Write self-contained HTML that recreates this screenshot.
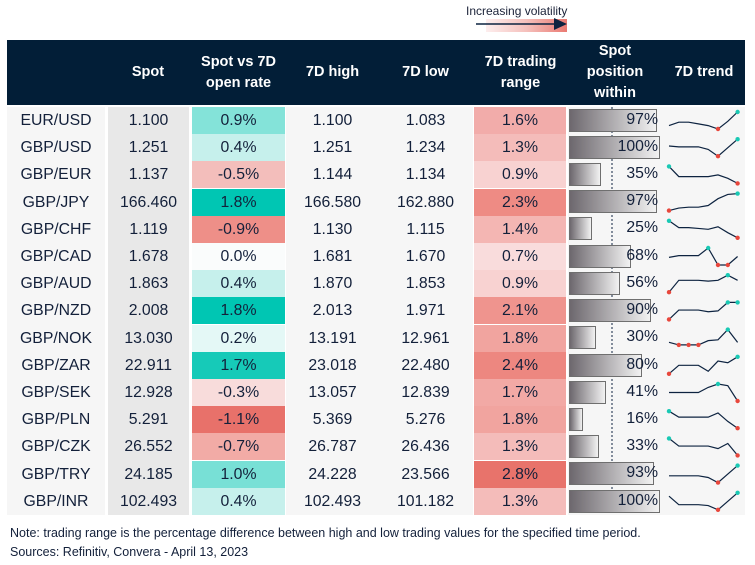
<!DOCTYPE html>
<html><head><meta charset="utf-8"><style>
body{margin:0;width:755px;height:565px;background:#fff;position:relative;overflow:hidden;font-family:"Liberation Sans",sans-serif;color:#13203a}
.a{position:absolute}
.hd{position:absolute;top:40px;height:65px;display:flex;align-items:center;justify-content:center;text-align:center;color:#fff;font-weight:bold;font-size:14.5px;line-height:21px}
.c{position:absolute;display:flex;align-items:center;justify-content:center;font-size:15.8px}
.bar{position:absolute;border:1px solid #6f6f6f;background:linear-gradient(to right,#6d686e,#f2f2f2);box-sizing:border-box}
.pct{position:absolute;width:90px;text-align:right;font-size:15.8px}
</style></head><body>
<div class="a" style="left:466px;top:4px;font-size:12px;color:#1a2238">Increasing volatility</div>
<div class="a" style="left:486px;top:19px;width:81px;height:13px;background:linear-gradient(to right,#fdeeee,#f5c0bc 50%,#ea7a72)"></div>
<svg class="a" style="left:476px;top:17px" width="94" height="18"><line x1="0" y1="7" x2="82" y2="7" stroke="#0d2340" stroke-width="1.5"/><polygon points="78,1 91,7 78,13" fill="#0d2340"/></svg>
<div class="a" style="left:7px;top:40px;width:738px;height:65px;background:#021e37"></div>
<div class="hd" style="left:107px;width:82px">Spot</div>
<div class="hd" style="left:192px;width:93px">Spot vs 7D<br>open rate</div>
<div class="hd" style="left:286px;width:93px">7D high</div>
<div class="hd" style="left:379px;width:93px">7D low</div>
<div class="hd" style="left:474px;width:93px">7D trading<br>range</div>
<div class="hd" style="left:568px;width:94px">Spot<br>position<br>within</div>
<div class="hd" style="left:663px;width:82px">7D trend</div>
<div class="a" style="left:7px;top:107px;width:98px;height:408px;background:#f6f6f6"></div>
<div class="a" style="left:108px;top:107px;width:81px;height:408px;background:#e8e8e8"></div>
<div class="a" style="left:286px;top:107px;width:187px;height:408px;background:#f6f6f6"></div>
<div class="a" style="left:568px;top:107px;width:177px;height:408px;background:#f6f6f6"></div>
<svg class="a" style="left:611px;top:107px" width="2" height="408"><line x1="1" y1="0" x2="1" y2="408" stroke="#0d2340" stroke-dasharray="2,2"/></svg>
<div class="a" style="left:10px;top:526px;font-size:12.5px">Note: trading range is the percentage difference between high and low trading values for the specified time period.</div>
<div class="a" style="left:10px;top:545px;font-size:12.5px">Sources: Refinitiv, Convera - April 13, 2023</div>

<div class="c" style="left:7px;top:107px;width:98px;height:27px">EUR/USD</div>
<div class="c" style="left:7px;top:134px;width:98px;height:27px">GBP/USD</div>
<div class="c" style="left:7px;top:161px;width:98px;height:27px">GBP/EUR</div>
<div class="c" style="left:7px;top:189px;width:98px;height:27px">GBP/JPY</div>
<div class="c" style="left:7px;top:216px;width:98px;height:27px">GBP/CHF</div>
<div class="c" style="left:7px;top:243px;width:98px;height:27px">GBP/CAD</div>
<div class="c" style="left:7px;top:270px;width:98px;height:27px">GBP/AUD</div>
<div class="c" style="left:7px;top:297px;width:98px;height:27px">GBP/NZD</div>
<div class="c" style="left:7px;top:325px;width:98px;height:27px">GBP/NOK</div>
<div class="c" style="left:7px;top:352px;width:98px;height:27px">GBP/ZAR</div>
<div class="c" style="left:7px;top:379px;width:98px;height:27px">GBP/SEK</div>
<div class="c" style="left:7px;top:406px;width:98px;height:27px">GBP/PLN</div>
<div class="c" style="left:7px;top:433px;width:98px;height:27px">GBP/CZK</div>
<div class="c" style="left:7px;top:461px;width:98px;height:27px">GBP/TRY</div>
<div class="c" style="left:7px;top:488px;width:98px;height:27px">GBP/INR</div>

<div class="c" style="left:108px;top:107px;width:81px;height:27px">1.100</div>
<div class="c" style="left:108px;top:134px;width:81px;height:27px">1.251</div>
<div class="c" style="left:108px;top:161px;width:81px;height:27px">1.137</div>
<div class="c" style="left:108px;top:189px;width:81px;height:27px">166.460</div>
<div class="c" style="left:108px;top:216px;width:81px;height:27px">1.119</div>
<div class="c" style="left:108px;top:243px;width:81px;height:27px">1.678</div>
<div class="c" style="left:108px;top:270px;width:81px;height:27px">1.863</div>
<div class="c" style="left:108px;top:297px;width:81px;height:27px">2.008</div>
<div class="c" style="left:108px;top:325px;width:81px;height:27px">13.030</div>
<div class="c" style="left:108px;top:352px;width:81px;height:27px">22.911</div>
<div class="c" style="left:108px;top:379px;width:81px;height:27px">12.928</div>
<div class="c" style="left:108px;top:406px;width:81px;height:27px">5.291</div>
<div class="c" style="left:108px;top:433px;width:81px;height:27px">26.552</div>
<div class="c" style="left:108px;top:461px;width:81px;height:27px">24.185</div>
<div class="c" style="left:108px;top:488px;width:81px;height:27px">102.493</div>

<div class="c" style="left:192px;top:107px;width:93px;height:27.2px;background:#84e3d9">0.9%</div>
<div class="c" style="left:192px;top:134px;width:93px;height:27.2px;background:#c6f0ec">0.4%</div>
<div class="c" style="left:192px;top:161px;width:93px;height:27.2px;background:#f3bebb">-0.5%</div>
<div class="c" style="left:192px;top:189px;width:93px;height:27.2px;background:#00c6b3">1.8%</div>
<div class="c" style="left:192px;top:216px;width:93px;height:27.2px;background:#ee8f88">-0.9%</div>
<div class="c" style="left:192px;top:243px;width:93px;height:27.2px;background:#fafcfc">0.0%</div>
<div class="c" style="left:192px;top:270px;width:93px;height:27.2px;background:#c6f0ec">0.4%</div>
<div class="c" style="left:192px;top:297px;width:93px;height:27.2px;background:#00c6b3">1.8%</div>
<div class="c" style="left:192px;top:325px;width:93px;height:27.2px;background:#e4f8f6">0.2%</div>
<div class="c" style="left:192px;top:352px;width:93px;height:27.2px;background:#16cab8">1.7%</div>
<div class="c" style="left:192px;top:379px;width:93px;height:27.2px;background:#f8dcdb">-0.3%</div>
<div class="c" style="left:192px;top:406px;width:93px;height:27.2px;background:#e8716a">-1.1%</div>
<div class="c" style="left:192px;top:433px;width:93px;height:27.2px;background:#f2aba6">-0.7%</div>
<div class="c" style="left:192px;top:461px;width:93px;height:27.2px;background:#78e0d6">1.0%</div>
<div class="c" style="left:192px;top:488px;width:93px;height:27.2px;background:#c6f0ec">0.4%</div>

<div class="c" style="left:286px;top:107px;width:93px;height:27px">1.100</div>
<div class="c" style="left:286px;top:134px;width:93px;height:27px">1.251</div>
<div class="c" style="left:286px;top:161px;width:93px;height:27px">1.144</div>
<div class="c" style="left:286px;top:189px;width:93px;height:27px">166.580</div>
<div class="c" style="left:286px;top:216px;width:93px;height:27px">1.130</div>
<div class="c" style="left:286px;top:243px;width:93px;height:27px">1.681</div>
<div class="c" style="left:286px;top:270px;width:93px;height:27px">1.870</div>
<div class="c" style="left:286px;top:297px;width:93px;height:27px">2.013</div>
<div class="c" style="left:286px;top:325px;width:93px;height:27px">13.191</div>
<div class="c" style="left:286px;top:352px;width:93px;height:27px">23.018</div>
<div class="c" style="left:286px;top:379px;width:93px;height:27px">13.057</div>
<div class="c" style="left:286px;top:406px;width:93px;height:27px">5.369</div>
<div class="c" style="left:286px;top:433px;width:93px;height:27px">26.787</div>
<div class="c" style="left:286px;top:461px;width:93px;height:27px">24.228</div>
<div class="c" style="left:286px;top:488px;width:93px;height:27px">102.493</div>

<div class="c" style="left:379px;top:107px;width:93px;height:27px">1.083</div>
<div class="c" style="left:379px;top:134px;width:93px;height:27px">1.234</div>
<div class="c" style="left:379px;top:161px;width:93px;height:27px">1.134</div>
<div class="c" style="left:379px;top:189px;width:93px;height:27px">162.880</div>
<div class="c" style="left:379px;top:216px;width:93px;height:27px">1.115</div>
<div class="c" style="left:379px;top:243px;width:93px;height:27px">1.670</div>
<div class="c" style="left:379px;top:270px;width:93px;height:27px">1.853</div>
<div class="c" style="left:379px;top:297px;width:93px;height:27px">1.971</div>
<div class="c" style="left:379px;top:325px;width:93px;height:27px">12.961</div>
<div class="c" style="left:379px;top:352px;width:93px;height:27px">22.480</div>
<div class="c" style="left:379px;top:379px;width:93px;height:27px">12.839</div>
<div class="c" style="left:379px;top:406px;width:93px;height:27px">5.276</div>
<div class="c" style="left:379px;top:433px;width:93px;height:27px">26.436</div>
<div class="c" style="left:379px;top:461px;width:93px;height:27px">23.566</div>
<div class="c" style="left:379px;top:488px;width:93px;height:27px">101.182</div>

<div class="c" style="left:474px;top:107px;width:92px;height:27.2px;background:#f2acaa">1.6%</div>
<div class="c" style="left:474px;top:134px;width:92px;height:27.2px;background:#f4bcba">1.3%</div>
<div class="c" style="left:474px;top:161px;width:92px;height:27.2px;background:#f8d2d1">0.9%</div>
<div class="c" style="left:474px;top:189px;width:92px;height:27.2px;background:#ee8b84">2.3%</div>
<div class="c" style="left:474px;top:216px;width:92px;height:27.2px;background:#f4b6b3">1.4%</div>
<div class="c" style="left:474px;top:243px;width:92px;height:27.2px;background:#f9dcdc">0.7%</div>
<div class="c" style="left:474px;top:270px;width:92px;height:27.2px;background:#f8d2d1">0.9%</div>
<div class="c" style="left:474px;top:297px;width:92px;height:27.2px;background:#ef948e">2.1%</div>
<div class="c" style="left:474px;top:325px;width:92px;height:27.2px;background:#f1a49f">1.8%</div>
<div class="c" style="left:474px;top:352px;width:92px;height:27.2px;background:#ed8780">2.4%</div>
<div class="c" style="left:474px;top:379px;width:92px;height:27.2px;background:#f2a9a5">1.7%</div>
<div class="c" style="left:474px;top:406px;width:92px;height:27.2px;background:#f1a49f">1.8%</div>
<div class="c" style="left:474px;top:433px;width:92px;height:27.2px;background:#f4bcba">1.3%</div>
<div class="c" style="left:474px;top:461px;width:92px;height:27.2px;background:#e8736b">2.8%</div>
<div class="c" style="left:474px;top:488px;width:92px;height:27.2px;background:#f4bcba">1.3%</div>

<div class="bar" style="left:569px;top:109px;width:88px;height:23px"></div><div class="pct" style="left:568px;top:111px">97%</div>
<div class="bar" style="left:569px;top:136px;width:91px;height:23px"></div><div class="pct" style="left:568px;top:138px">100%</div>
<div class="bar" style="left:569px;top:163px;width:32px;height:23px"></div><div class="pct" style="left:568px;top:165px">35%</div>
<div class="bar" style="left:569px;top:190px;width:88px;height:23px"></div><div class="pct" style="left:568px;top:192px">97%</div>
<div class="bar" style="left:569px;top:217px;width:23px;height:23px"></div><div class="pct" style="left:568px;top:219px">25%</div>
<div class="bar" style="left:569px;top:245px;width:62px;height:23px"></div><div class="pct" style="left:568px;top:247px">68%</div>
<div class="bar" style="left:569px;top:272px;width:51px;height:23px"></div><div class="pct" style="left:568px;top:274px">56%</div>
<div class="bar" style="left:569px;top:299px;width:82px;height:23px"></div><div class="pct" style="left:568px;top:301px">90%</div>
<div class="bar" style="left:569px;top:326px;width:27px;height:23px"></div><div class="pct" style="left:568px;top:328px">30%</div>
<div class="bar" style="left:569px;top:354px;width:73px;height:23px"></div><div class="pct" style="left:568px;top:356px">80%</div>
<div class="bar" style="left:569px;top:381px;width:37px;height:23px"></div><div class="pct" style="left:568px;top:383px">41%</div>
<div class="bar" style="left:569px;top:408px;width:14px;height:23px"></div><div class="pct" style="left:568px;top:410px">16%</div>
<div class="bar" style="left:569px;top:435px;width:30px;height:23px"></div><div class="pct" style="left:568px;top:437px">33%</div>
<div class="bar" style="left:569px;top:462px;width:85px;height:23px"></div><div class="pct" style="left:568px;top:464px">93%</div>
<div class="bar" style="left:569px;top:490px;width:91px;height:23px"></div><div class="pct" style="left:568px;top:492px">100%</div>

<svg id="sp" class="a" style="left:0;top:0" width="755" height="565"></svg>
<script>
var d=[[.8,.6,.6,.7,.8,1,.55,0],[.4,.45,.45,.45,.6,1,.5,0],[0,.6,.6,.6,.6,.5,.7,1],[1,.85,.8,.8,.7,.3,.05,0],[0,.4,.4,.45,.5,.35,.7,1],[.55,.45,.45,.45,0,1,1,.5],[1,.3,.3,.3,.35,.3,0,.3],[1,.45,.45,.45,.55,.5,0,0],[.75,.9,.9,.9,.65,.6,0,.75],[1,.5,.5,.5,.85,.25,.35,0],[.5,.5,.5,.5,.2,0,.1,1],[0,.35,.35,.35,.35,.1,.6,1],[0,.45,.45,.45,.45,.6,.3,1],[.6,.6,.6,.6,.7,1,.5,0],[.2,.7,.7,.7,.75,1,.5,0]];
var s='';
d.forEach(function(r,i){var t=107+i*27.2+5,h=17,p=[];var mn=Math.max.apply(0,r),mx=Math.min.apply(0,r);
r.forEach(function(v,j){p.push([669+j*9.8,t+v*h]);});
s+='<polyline fill="none" stroke="#0d2340" stroke-width="1.2" points="'+p.map(function(q){return q.join(',')}).join(' ')+'"/>';
p.forEach(function(q,j){if(r[j]==mn)s+='<circle cx="'+q[0]+'" cy="'+q[1]+'" r="2.2" fill="#e8473c"/>';else if(r[j]==mx)s+='<circle cx="'+q[0]+'" cy="'+q[1]+'" r="2.2" fill="#19c9b4"/>';});});
document.getElementById('sp').innerHTML=s;
</script>
</body></html>
